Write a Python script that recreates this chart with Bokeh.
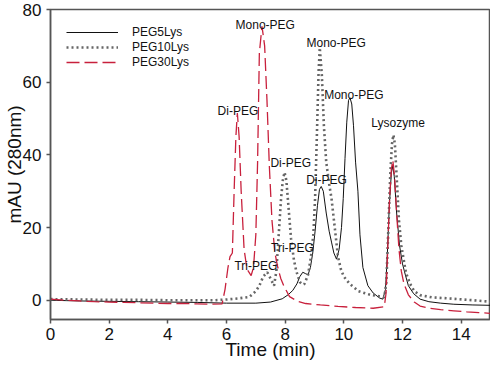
from bokeh.plotting import figure
from bokeh.models import Legend, LegendItem, Range1d, FixedTicker, ColumnDataSource
from bokeh.core.properties import value
from bokeh.embed import file_html
from bokeh.resources import INLINE

# ---- data ----
peg5_x = [0, 1, 2, 3, 4, 5, 6, 7, 7.5, 7.9, 8.1, 8.26, 8.4, 8.5, 8.6, 8.7, 8.78, 8.86, 8.94,
          9.02, 9.1, 9.17, 9.23, 9.3, 9.4, 9.5, 9.58, 9.66, 9.75, 9.84, 9.92, 9.98, 10.04,
          10.1, 10.16, 10.21, 10.27, 10.33, 10.4, 10.48, 10.55, 10.65, 10.82, 11.0, 11.22,
          11.33, 11.42, 11.48, 11.55, 11.62, 11.67, 11.72, 11.8, 11.9, 12.0, 12.09, 12.2,
          12.38, 12.6, 12.9, 13.3, 13.75, 14.4, 15]
peg5_y = [0, -0.2, -0.3, -0.4, -0.5, -0.6, -0.8, -0.8, -0.5, 0.4, 1.5, 2.7, 4.5, 6.5, 7.7,
          7.3, 7.0, 9, 13, 19, 26, 30.5, 31.3, 30, 24, 19, 16, 13, 11.3, 14, 20, 28, 39,
          49, 55, 55.7, 54, 48, 38, 30, 18, 9, 4, 2, 0.6, 0.3, 3, 12, 26, 35, 37, 34, 24,
          15, 10, 7.2, 4, 1.8, 0.3, -0.4, -0.8, -1.1, -1.3, -1.4]

peg10_x = [0, 1, 2, 3, 4, 5, 5.6, 6.0, 6.4, 6.78, 7.0, 7.12, 7.25, 7.39, 7.5, 7.62, 7.7,
           7.78, 7.86, 7.92, 7.98, 8.04, 8.12, 8.2, 8.3, 8.38, 8.5, 8.6, 8.66, 8.78, 8.88,
           8.96, 9.02, 9.08, 9.14, 9.18, 9.25, 9.32, 9.4, 9.5, 9.58, 9.69, 9.8, 9.9, 10.0,
           10.2, 10.5, 10.9, 11.2, 11.38, 11.45, 11.52, 11.58, 11.64, 11.69, 11.74, 11.8,
           11.88, 11.96, 12.03, 12.12, 12.26, 12.4, 12.6, 13.0, 13.75, 14.4, 15]
peg10_y = [0.3, 0.2, 0.1, 0.1, 0, 0, 0, 0.2, 0.5, 0.9, 2.5, 4, 6.5, 7.7, 6, 4, 8, 18, 28,
           33, 35.2, 33, 25, 17, 11, 8, 5, 4.3, 4.5, 7, 12, 18, 28, 45, 63, 69.5, 62, 48,
           38, 32, 28, 20, 12, 8.5, 6.5, 4.5, 2.5, 1.5, 1.1, 0.8, 5, 20, 34, 43, 45.5, 43,
           34, 22, 15, 11.7, 7.5, 4.5, 2.5, 1.4, 0.8, 0.4, 0, -0.4]

peg30_x = [0, 0.5, 1, 1.5, 2, 2.5, 3, 3.5, 4, 4.5, 5, 5.5, 5.85, 5.95, 6.05, 6.12, 6.2,
           6.26, 6.32, 6.37, 6.43, 6.5, 6.6, 6.7, 6.84, 6.92, 7.0, 7.06, 7.12, 7.21, 7.3,
           7.38, 7.46, 7.55, 7.65, 7.75, 7.85, 7.95, 8.15, 8.4, 8.7, 9.2, 9.8, 10.4, 11.0,
           11.38, 11.44, 11.5, 11.56, 11.62, 11.67, 11.73, 11.8, 11.88, 11.96, 12.05, 12.2,
           12.4, 12.6, 12.9, 13.3, 13.75, 14.2, 14.6, 15]
peg30_y = [0.3, 0, -0.2, -0.4, -0.5, -0.6, -0.7, -0.8, -0.9, -0.9, -1.0, -1.1, -1.0, 3, 9,
           12, 13, 30, 45, 51.5, 45, 30, 14, 8.5, 6.8, 9, 18, 38, 68, 75.4, 70, 55, 37, 22,
           13, 9, 6, 4, 1, -0.2, -0.9, -1.3, -1.7, -2, -2.2, -1.8, 2, 15, 28, 36, 38.5, 34,
           24, 14, 8, 4.5, 1.5, -0.5, -1.6, -2.2, -2.6, -2.9, -3.2, -3.4, -3.6]

ann_text = ["Mono-PEG", "Di-PEG", "Tri-PEG", "Mono-PEG", "Di-PEG", "Tri-PEG",
            "Mono-PEG", "Di-PEG", "Lysozyme"]
ann_x = [7.32, 6.39, 7.0, 9.74, 8.19, 8.25, 10.34, 9.41, 11.85]
ann_y = [75.7, 52.1, 9.5, 70.7, 37.8, 14.3, 56.6, 33.1, 48.8]

x_ticks = [0, 2, 4, 6, 8, 10, 12, 14]
y_ticks = [0, 20, 40, 60, 80]

FONT = "Liberation Sans"
AXC = "#555555"
RED = "#c8203c"

p = figure(width=490, height=362, x_range=Range1d(0, 15), y_range=Range1d(-5.3, 80),
           output_backend="svg", toolbar_location=None,
           min_border_left=44, min_border_right=0, min_border_top=9, min_border_bottom=0)
p.background_fill_color = "white"
p.border_fill_color = "white"
p.outline_line_color = AXC
p.outline_line_width = 1.5
p.xgrid.grid_line_color = None
p.ygrid.grid_line_color = None

r5 = p.line(peg5_x, peg5_y, line_color="#111111", line_width=1)
r10 = p.line(peg10_x, peg10_y, line_color="#666666", line_width=2.6, line_dash="2 3")
r30 = p.line(peg30_x, peg30_y, line_color=RED, line_width=1.3, line_dash="13 5")

src = ColumnDataSource(dict(x=ann_x, y=ann_y, t=ann_text))
p.text(x="x", y="y", text="t", source=src, text_font=value(FONT), text_font_size="12px",
       text_align="center", text_baseline="middle", text_color="#111111")

for ax in (p.xaxis[0], p.yaxis[0]):
    ax.axis_line_color = AXC
    ax.axis_line_width = 1.5
    ax.major_tick_line_color = AXC
    ax.major_tick_line_width = 1.5
    ax.major_tick_out = 4
    ax.major_tick_in = 0
    ax.minor_tick_line_color = None
    ax.major_label_text_font = FONT
    ax.major_label_text_font_size = "17px"
    ax.major_label_text_color = "#111111"
    ax.axis_label_text_font = FONT
    ax.axis_label_text_font_size = "19px"
    ax.axis_label_text_font_style = "normal"
    ax.axis_label_text_color = "#111111"

p.xaxis.ticker = FixedTicker(ticks=x_ticks)
p.yaxis.ticker = FixedTicker(ticks=y_ticks)
p.xaxis.axis_label = "Time (min)"
p.yaxis.axis_label = "mAU (280nm)"
p.xaxis.major_label_standoff = 4
p.xaxis.axis_label_standoff = -4
p.yaxis.major_label_standoff = 5
p.yaxis.axis_label_standoff = -5

legend = Legend(items=[LegendItem(label="PEG5Lys", renderers=[r5]),
                       LegendItem(label="PEG10Lys", renderers=[r10]),
                       LegendItem(label="PEG30Lys", renderers=[r30])],
                location="top_left", margin=16, padding=0, spacing=1,
                glyph_width=52, glyph_height=12, label_height=12, label_standoff=14,
                label_text_font=FONT, label_text_font_size="12px",
                label_text_color="#111111",
                border_line_color=None, background_fill_alpha=0)
p.add_layout(legend)

open("out.html", "w").write(file_html(p, INLINE))
